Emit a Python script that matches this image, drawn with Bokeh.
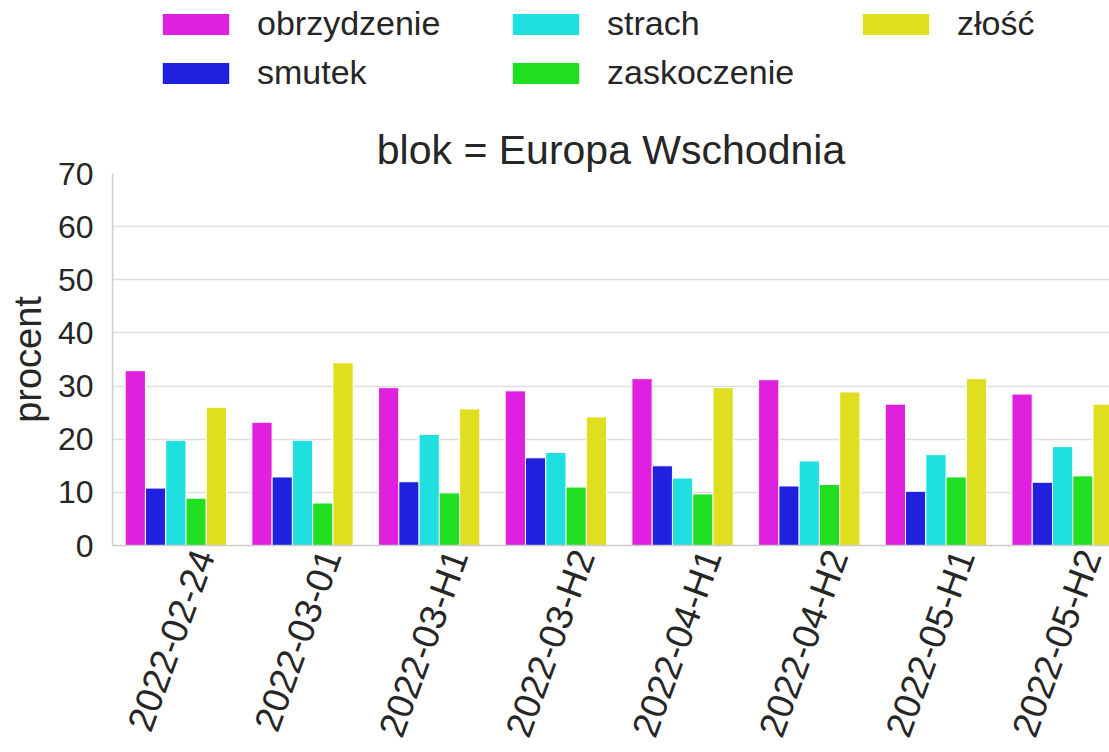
import math
from bokeh.plotting import figure
from bokeh.layouts import column
from bokeh.models import ColumnDataSource, FixedTicker, Legend, LegendItem, Range1d
from bokeh.embed import file_html
from bokeh.resources import INLINE

categories = ["2022-02-24", "2022-03-01", "2022-03-H1", "2022-03-H2",
              "2022-04-H1", "2022-04-H2", "2022-05-H1", "2022-05-H2"]
series = ["obrzydzenie", "smutek", "strach", "zaskoczenie", "złość"]
obrzydzenie = [32.9, 23.2, 29.7, 29.1, 31.4, 31.2, 26.6, 28.5]
smutek = [10.8, 12.9, 12.0, 16.5, 15.0, 11.2, 10.2, 11.9]
strach = [19.8, 19.8, 20.9, 17.5, 12.7, 15.9, 17.1, 18.6]
zaskoczenie = [8.9, 8.0, 9.9, 11.0, 9.7, 11.5, 12.9, 13.1]
zlosc = [26.0, 34.4, 25.7, 24.2, 29.7, 28.9, 31.4, 26.6]
y_ticks = [0, 10, 20, 30, 40, 50, 60, 70]

colors = ["#df20df", "#2020df", "#20dfdf", "#20df20", "#dfdf20"]
values = [obrzydzenie, smutek, strach, zaskoczenie, zlosc]

FONT = "Liberation Sans"
TXT = "#262626"

# ---- legend strip (own figure above the chart; its view range shows no bars) ----
leg_fig = figure(width=1109, height=100, x_range=Range1d(100, 101), y_range=Range1d(100, 101),
                 output_backend="svg", toolbar_location=None,
                 min_border=0, min_border_left=0, min_border_right=0,
                 min_border_top=0, min_border_bottom=0)
leg_fig.axis.visible = False
leg_fig.grid.visible = False
leg_fig.outline_line_color = None
leg_fig.background_fill_color = "white"
leg_fig.border_fill_color = "white"

# ---- main chart ----
p = figure(width=1109, height=652,
           x_range=Range1d(-0.5, 7.37), y_range=Range1d(0, 70),
           output_backend="svg", toolbar_location=None,
           min_border_left=112, min_border_right=0,
           min_border_top=73, min_border_bottom=206,
           title="blok = Europa Wschodnia")
p.outline_line_color = None
p.background_fill_color = "white"
p.border_fill_color = "white"

p.title.text_font = FONT
p.title.text_font_size = "41px"
p.title.text_font_style = "normal"
p.title.text_color = TXT
p.title.align = "center"
p.title.standoff = 2

bar_w = 0.8 / len(series)
items = []
for j, (name, vals, col) in enumerate(zip(series, values, colors)):
    xs = [i + (j - (len(series) - 1) / 2) * bar_w for i in range(len(categories))]
    src = ColumnDataSource(dict(x=xs, top=vals))
    p.vbar(x="x", top="top", width=bar_w, bottom=0, source=src,
           fill_color=col, line_color="white", line_width=1)
    swatch = leg_fig.vbar(x="x", top="top", width=bar_w, bottom=0, source=src,
                          fill_color=col, line_color=None)
    items.append(LegendItem(label=name, renderers=[swatch]))

legend = Legend(items=items, location=(42, 8), orientation="vertical",
                ncols=3, nrows=2, padding=0, margin=0, spacing=10,
                glyph_width=83, glyph_height=26, label_standoff=20,
                label_width=237, label_height=36,
                label_text_font=FONT, label_text_font_size="34px",
                label_text_color=TXT, border_line_color=None,
                background_fill_alpha=0)
leg_fig.add_layout(legend, "center")

# x axis
p.xaxis.ticker = FixedTicker(ticks=[i + 0.22 for i in range(len(categories))])
p.xaxis.major_label_overrides = {i + 0.22: c for i, c in enumerate(categories)}
p.xaxis.major_label_orientation = math.radians(70)
p.xaxis.major_label_text_font = FONT
p.xaxis.major_label_text_font_size = "37px"
p.xaxis.major_label_text_color = TXT
p.xaxis.major_label_standoff = 6
p.xaxis.major_tick_out = 0
p.xaxis.major_tick_in = 0
p.xaxis.minor_tick_out = 0
p.xaxis.minor_tick_in = 0
p.xaxis.axis_line_color = "#cccccc"
p.xaxis.axis_line_width = 1.5
p.xgrid.visible = False

# y axis
p.yaxis.ticker = FixedTicker(ticks=y_ticks)
p.yaxis.axis_label = "procent"
p.yaxis.axis_label_text_font = FONT
p.yaxis.axis_label_text_font_size = "38px"
p.yaxis.axis_label_text_font_style = "normal"
p.yaxis.axis_label_text_color = TXT
p.yaxis.axis_label_standoff = 6
p.yaxis.major_label_text_font = FONT
p.yaxis.major_label_text_font_size = "32px"
p.yaxis.major_label_text_color = TXT
p.yaxis.major_label_standoff = 19
p.yaxis.major_tick_out = 0
p.yaxis.major_tick_in = 0
p.yaxis.minor_tick_out = 0
p.yaxis.minor_tick_in = 0
p.yaxis.axis_line_color = "#cccccc"
p.yaxis.axis_line_width = 1.5
p.ygrid.grid_line_color = "#dedede"
p.ygrid.grid_line_width = 1.5

layout = column(leg_fig, p, spacing=0)
open("out.html", "w").write(file_html(layout, INLINE))
